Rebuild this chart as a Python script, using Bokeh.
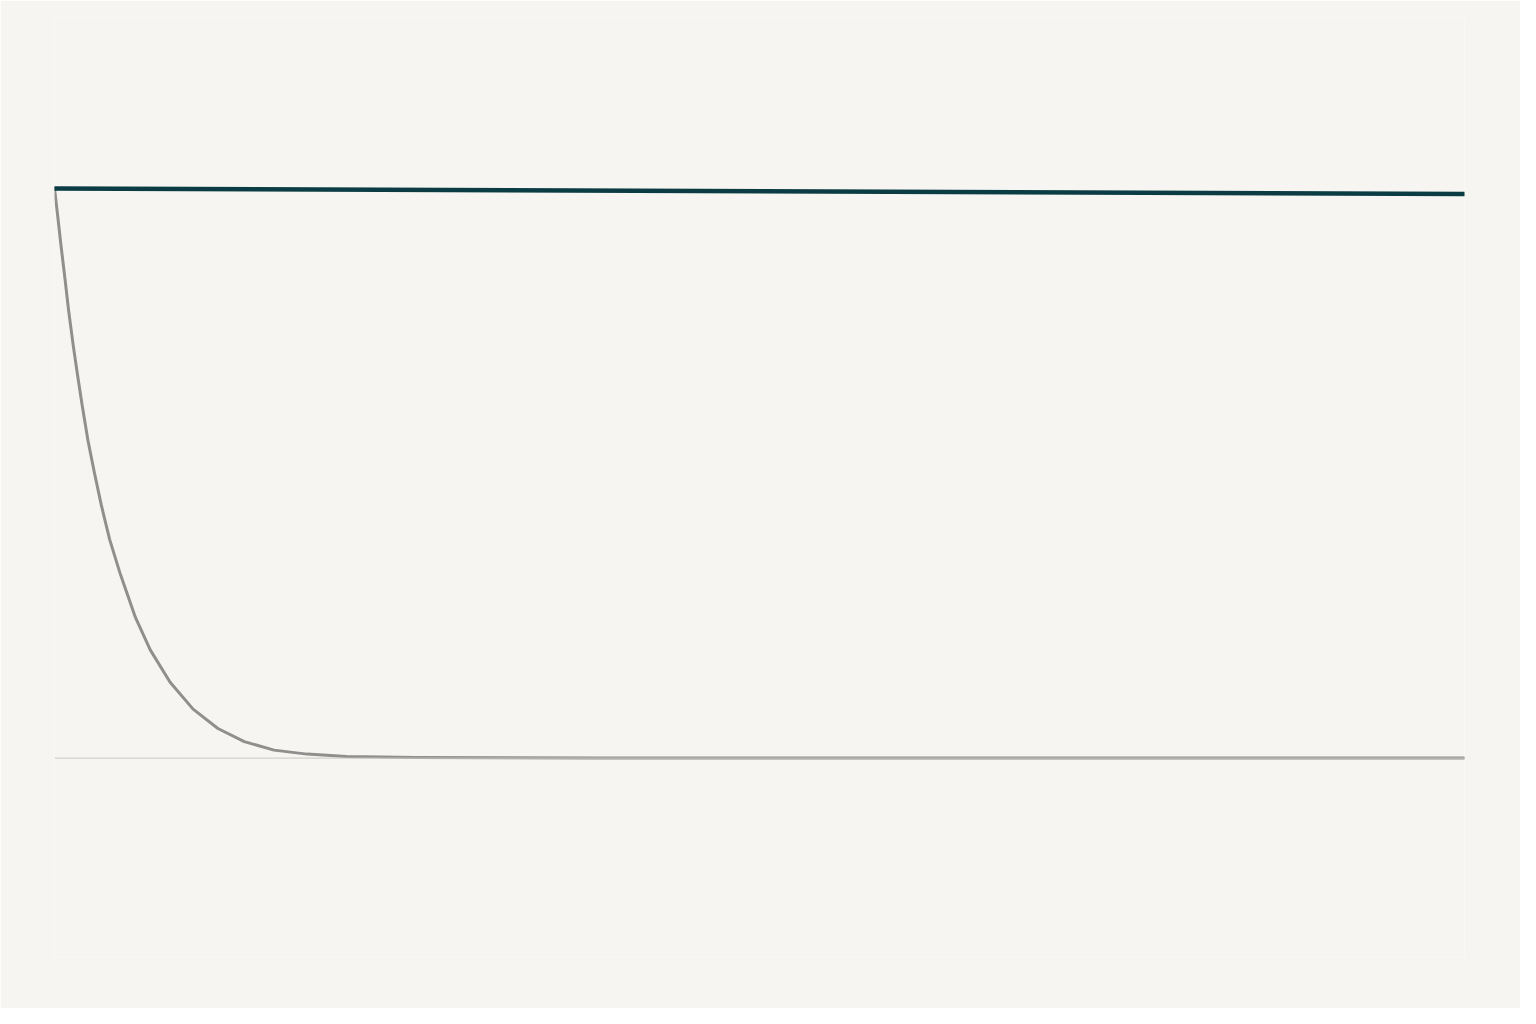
from bokeh.plotting import figure
from bokeh.models import Range1d, Span
from bokeh.embed import file_html
from bokeh.resources import INLINE

# Series values (x on a 0-100 scale, y as % of starting value)
decay_x = [0, 0.23, 0.47, 0.75, 1.00, 1.33, 1.65, 1.97, 2.37, 2.83, 3.32, 3.91,
           4.63, 4.92, 5.74, 6.79, 8.20, 9.83, 11.59, 13.46, 15.57, 17.91, 20.72,
           25.6, 38.3, 100.0]
decay_y = [100, 95.1, 89.8, 84.0, 78.6, 72.4, 67.0, 61.8, 55.8, 50.1, 44.4, 38.4,
           32.6, 30.5, 24.7, 19.0, 13.3, 8.6, 5.2, 2.9, 1.4, 0.7, 0.3,
           0.1, 0.02, 0.0]

steady_x = [0, 100]
steady_y = [100, 99.0]

BG = "#f6f5f1"

p = figure(width=1520, height=1008, output_backend="svg", toolbar_location=None,
           x_range=Range1d(0, 100), y_range=Range1d(-35, 130),
           min_border_left=54, min_border_right=56, min_border_top=17, min_border_bottom=51,
           background_fill_color=BG, border_fill_color=BG)
p.outline_line_color = None
p.xgrid.visible = False
p.ygrid.visible = False
p.xaxis.visible = False
p.yaxis.visible = False

p.add_layout(Span(location=0, dimension="width", line_color="#c9c8c3", line_width=1))

p.line(decay_x, decay_y, line_color="#8f8f8d", line_width=3, line_join="round", line_cap="round")
p.line(steady_x, steady_y, line_color="#0b3c44", line_width=4.5, line_cap="round")

html = file_html(p, INLINE)
html = html.replace("<body>", '<body style="background:%s">' % BG, 1)
open("out.html", "w").write(html)
